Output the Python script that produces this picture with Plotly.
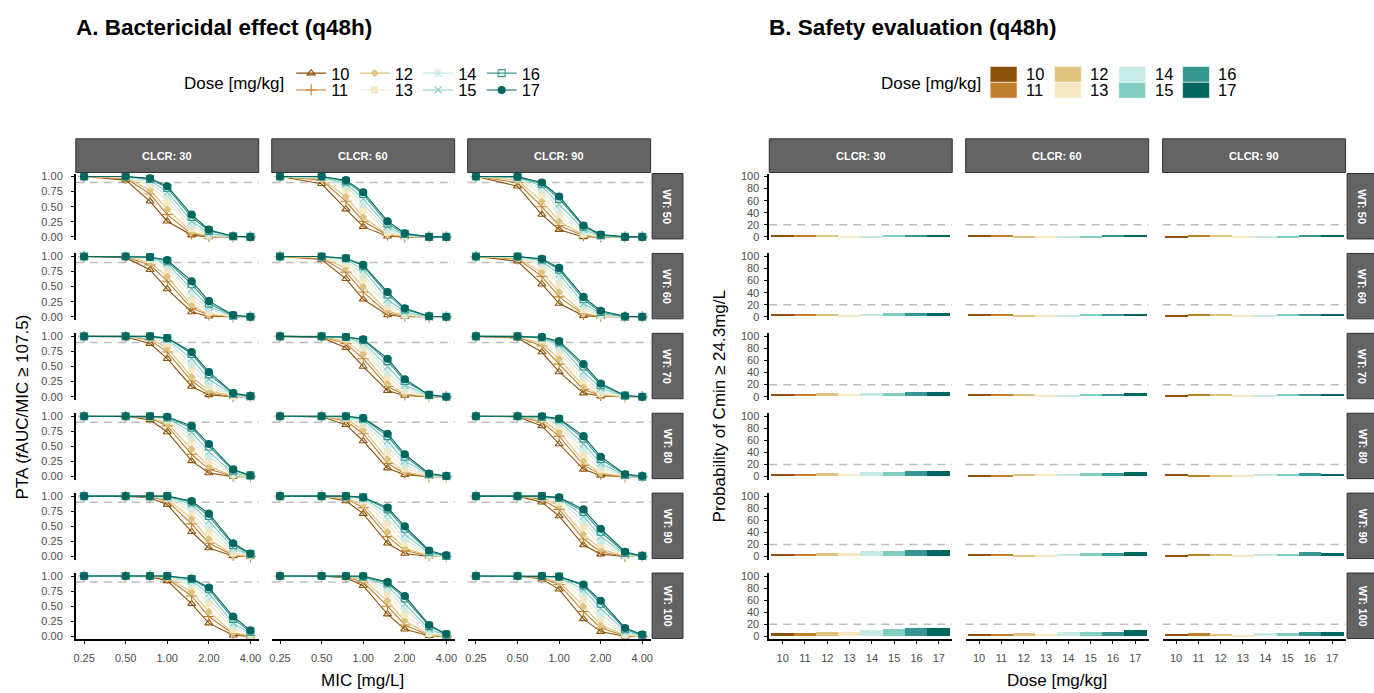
import plotly.graph_objects as go

W, H = 1374, 693

# ---------------- data ----------------
MIC = [0.25, 0.5, 0.75, 1, 1.5, 2, 3, 4]
MIC_TICKS = [0.25, 0.5, 1, 2, 4]
MIC_TICKTEXT = ["0.25", "0.50", "1.00", "2.00", "4.00"]
DOSES = [10, 11, 12, 13, 14, 15, 16, 17]
CLCR = [30, 60, 90]
WT = [50, 60, 70, 80, 90, 100]
PTA_TARGET = 0.9
SAFETY_LIMIT = 20

# PTA tables: rows = dose 10..17, columns = MIC values
PTA_WT50_CLCR30 = [
    [1, 0.94, 0.59, 0.26, 0.03, 0, 0, 0],
    [1, 0.97, 0.71, 0.37, 0.05, 0.01, 0, 0],
    [1, 0.98, 0.78, 0.46, 0.08, 0.01, 0, 0],
    [1, 0.99, 0.86, 0.59, 0.14, 0.03, 0, 0],
    [1, 1, 0.90, 0.67, 0.19, 0.04, 0, 0],
    [1, 1, 0.94, 0.74, 0.26, 0.06, 0, 0],
    [1, 1, 0.96, 0.81, 0.33, 0.10, 0.01, 0],
    [1, 1, 0.97, 0.84, 0.37, 0.12, 0.01, 0]]
PTA_WT50_CLCR60 = [
    [1, 0.88, 0.46, 0.17, 0.01, 0, 0, 0],
    [1, 0.94, 0.59, 0.26, 0.03, 0, 0, 0],
    [1, 0.96, 0.67, 0.33, 0.04, 0.01, 0, 0],
    [1, 0.98, 0.78, 0.46, 0.08, 0.01, 0, 0],
    [1, 0.99, 0.84, 0.54, 0.12, 0.02, 0, 0],
    [1, 0.99, 0.88, 0.63, 0.17, 0.03, 0, 0],
    [1, 1, 0.92, 0.71, 0.22, 0.05, 0, 0],
    [1, 1, 0.94, 0.74, 0.26, 0.06, 0, 0]]
PTA_WT50_CLCR90 = [
    [1, 0.84, 0.37, 0.12, 0, 0, 0, 0],
    [1, 0.90, 0.50, 0.19, 0.02, 0, 0, 0],
    [1, 0.94, 0.59, 0.26, 0.03, 0, 0, 0],
    [1, 0.97, 0.71, 0.37, 0.05, 0.01, 0, 0],
    [1, 0.98, 0.78, 0.46, 0.08, 0.01, 0, 0],
    [1, 0.99, 0.84, 0.54, 0.12, 0.02, 0, 0],
    [1, 0.99, 0.88, 0.63, 0.17, 0.03, 0, 0],
    [1, 1, 0.90, 0.67, 0.19, 0.04, 0, 0]]
PTA_WT60_CLCR30 = [
    [1, 0.98, 0.78, 0.46, 0.08, 0.01, 0, 0],
    [1, 0.99, 0.86, 0.59, 0.14, 0.03, 0, 0],
    [1, 1, 0.90, 0.67, 0.19, 0.04, 0, 0],
    [1, 1, 0.95, 0.78, 0.29, 0.08, 0, 0],
    [1, 1, 0.97, 0.84, 0.37, 0.12, 0.01, 0],
    [1, 1, 0.98, 0.88, 0.46, 0.17, 0.01, 0],
    [1, 1, 0.99, 0.92, 0.54, 0.22, 0.02, 0],
    [1, 1, 0.99, 0.94, 0.59, 0.26, 0.03, 0]]
PTA_WT60_CLCR60 = [
    [1, 0.95, 0.63, 0.29, 0.03, 0, 0, 0],
    [1, 0.97, 0.74, 0.41, 0.06, 0.01, 0, 0],
    [1, 0.98, 0.81, 0.50, 0.10, 0.02, 0, 0],
    [1, 0.99, 0.88, 0.63, 0.17, 0.03, 0, 0],
    [1, 1, 0.92, 0.71, 0.22, 0.05, 0, 0],
    [1, 1, 0.95, 0.78, 0.29, 0.08, 0, 0],
    [1, 1, 0.97, 0.84, 0.37, 0.12, 0.01, 0],
    [1, 1, 0.97, 0.86, 0.41, 0.14, 0.01, 0]]
PTA_WT60_CLCR90 = [
    [1, 0.92, 0.54, 0.22, 0.02, 0, 0, 0],
    [1, 0.96, 0.67, 0.33, 0.04, 0.01, 0, 0],
    [1, 0.97, 0.74, 0.41, 0.06, 0.01, 0, 0],
    [1, 0.99, 0.84, 0.54, 0.12, 0.02, 0, 0],
    [1, 0.99, 0.88, 0.63, 0.17, 0.03, 0, 0],
    [1, 1, 0.92, 0.71, 0.22, 0.05, 0, 0],
    [1, 1, 0.95, 0.78, 0.29, 0.08, 0, 0],
    [1, 1, 0.96, 0.81, 0.33, 0.10, 0.01, 0]]
PTA_WT70_CLCR30 = [
    [1, 0.99, 0.88, 0.63, 0.17, 0.03, 0, 0],
    [1, 1, 0.94, 0.74, 0.26, 0.06, 0, 0],
    [1, 1, 0.96, 0.81, 0.33, 0.10, 0.01, 0],
    [1, 1, 0.98, 0.88, 0.46, 0.17, 0.01, 0],
    [1, 1, 0.99, 0.92, 0.54, 0.22, 0.02, 0],
    [1, 1, 0.99, 0.95, 0.63, 0.29, 0.03, 0],
    [1, 1, 1, 0.97, 0.71, 0.37, 0.05, 0.01],
    [1, 1, 1, 0.97, 0.74, 0.41, 0.06, 0.01]]
PTA_WT70_CLCR60 = [
    [1, 0.98, 0.81, 0.50, 0.10, 0.02, 0, 0],
    [1, 0.99, 0.88, 0.63, 0.17, 0.03, 0, 0],
    [1, 1, 0.92, 0.71, 0.22, 0.05, 0, 0],
    [1, 1, 0.96, 0.81, 0.33, 0.10, 0.01, 0],
    [1, 1, 0.97, 0.86, 0.41, 0.14, 0.01, 0],
    [1, 1, 0.98, 0.90, 0.50, 0.19, 0.02, 0],
    [1, 1, 0.99, 0.94, 0.59, 0.26, 0.03, 0],
    [1, 1, 0.99, 0.95, 0.63, 0.29, 0.03, 0]]
PTA_WT70_CLCR90 = [
    [1, 0.97, 0.74, 0.41, 0.06, 0.01, 0, 0],
    [1, 0.99, 0.84, 0.54, 0.12, 0.02, 0, 0],
    [1, 0.99, 0.88, 0.63, 0.17, 0.03, 0, 0],
    [1, 1, 0.94, 0.74, 0.26, 0.06, 0, 0],
    [1, 1, 0.96, 0.81, 0.33, 0.10, 0.01, 0],
    [1, 1, 0.97, 0.86, 0.41, 0.14, 0.01, 0],
    [1, 1, 0.98, 0.90, 0.50, 0.19, 0.02, 0],
    [1, 1, 0.99, 0.92, 0.54, 0.22, 0.02, 0]]
PTA_WT80_CLCR30 = [
    [1, 1, 0.94, 0.74, 0.26, 0.06, 0, 0],
    [1, 1, 0.97, 0.84, 0.37, 0.12, 0.01, 0],
    [1, 1, 0.98, 0.88, 0.46, 0.17, 0.01, 0],
    [1, 1, 0.99, 0.94, 0.59, 0.26, 0.03, 0],
    [1, 1, 1, 0.96, 0.67, 0.33, 0.04, 0.01],
    [1, 1, 1, 0.97, 0.74, 0.41, 0.06, 0.01],
    [1, 1, 1, 0.98, 0.81, 0.50, 0.10, 0.02],
    [1, 1, 1, 0.99, 0.84, 0.54, 0.12, 0.02]]
PTA_WT80_CLCR60 = [
    [1, 0.99, 0.86, 0.59, 0.14, 0.03, 0, 0],
    [1, 1, 0.92, 0.71, 0.22, 0.05, 0, 0],
    [1, 1, 0.95, 0.78, 0.29, 0.08, 0, 0],
    [1, 1, 0.97, 0.86, 0.41, 0.14, 0.01, 0],
    [1, 1, 0.98, 0.90, 0.50, 0.19, 0.02, 0],
    [1, 1, 0.99, 0.94, 0.59, 0.26, 0.03, 0],
    [1, 1, 1, 0.96, 0.67, 0.33, 0.04, 0.01],
    [1, 1, 1, 0.97, 0.71, 0.37, 0.05, 0.01]]
PTA_WT80_CLCR90 = [
    [1, 0.99, 0.84, 0.54, 0.12, 0.02, 0, 0],
    [1, 1, 0.90, 0.67, 0.19, 0.04, 0, 0],
    [1, 1, 0.94, 0.74, 0.26, 0.06, 0, 0],
    [1, 1, 0.97, 0.84, 0.37, 0.12, 0.01, 0],
    [1, 1, 0.98, 0.88, 0.46, 0.17, 0.01, 0],
    [1, 1, 0.99, 0.92, 0.54, 0.22, 0.02, 0],
    [1, 1, 0.99, 0.95, 0.63, 0.29, 0.03, 0],
    [1, 1, 1, 0.96, 0.67, 0.33, 0.04, 0.01]]
PTA_WT90_CLCR30 = [
    [1, 1, 0.97, 0.86, 0.41, 0.14, 0.01, 0],
    [1, 1, 0.99, 0.92, 0.54, 0.22, 0.02, 0],
    [1, 1, 0.99, 0.95, 0.63, 0.29, 0.03, 0],
    [1, 1, 1, 0.97, 0.74, 0.41, 0.06, 0.01],
    [1, 1, 1, 0.98, 0.81, 0.50, 0.10, 0.02],
    [1, 1, 1, 0.99, 0.86, 0.59, 0.14, 0.03],
    [1, 1, 1, 1, 0.90, 0.67, 0.19, 0.04],
    [1, 1, 1, 1, 0.92, 0.71, 0.22, 0.05]]
PTA_WT90_CLCR60 = [
    [1, 1, 0.92, 0.71, 0.22, 0.05, 0, 0],
    [1, 1, 0.96, 0.81, 0.33, 0.10, 0.01, 0],
    [1, 1, 0.97, 0.86, 0.41, 0.14, 0.01, 0],
    [1, 1, 0.99, 0.92, 0.54, 0.22, 0.02, 0],
    [1, 1, 0.99, 0.95, 0.63, 0.29, 0.03, 0],
    [1, 1, 1, 0.97, 0.71, 0.37, 0.05, 0.01],
    [1, 1, 1, 0.98, 0.78, 0.46, 0.08, 0.01],
    [1, 1, 1, 0.98, 0.81, 0.50, 0.10, 0.02]]
PTA_WT90_CLCR90 = [
    [1, 1, 0.90, 0.67, 0.19, 0.04, 0, 0],
    [1, 1, 0.95, 0.78, 0.29, 0.08, 0, 0],
    [1, 1, 0.97, 0.84, 0.37, 0.12, 0.01, 0],
    [1, 1, 0.98, 0.90, 0.50, 0.19, 0.02, 0],
    [1, 1, 0.99, 0.94, 0.59, 0.26, 0.03, 0],
    [1, 1, 1, 0.96, 0.67, 0.33, 0.04, 0.01],
    [1, 1, 1, 0.97, 0.74, 0.41, 0.06, 0.01],
    [1, 1, 1, 0.98, 0.78, 0.46, 0.08, 0.01]]
PTA_WT100_CLCR30 = [
    [1, 1, 0.99, 0.92, 0.54, 0.22, 0.02, 0],
    [1, 1, 1, 0.96, 0.67, 0.33, 0.04, 0.01],
    [1, 1, 1, 0.97, 0.74, 0.41, 0.06, 0.01],
    [1, 1, 1, 0.99, 0.84, 0.54, 0.12, 0.02],
    [1, 1, 1, 0.99, 0.88, 0.63, 0.17, 0.03],
    [1, 1, 1, 1, 0.92, 0.71, 0.22, 0.05],
    [1, 1, 1, 1, 0.95, 0.78, 0.29, 0.08],
    [1, 1, 1, 1, 0.96, 0.81, 0.33, 0.10]]
PTA_WT100_CLCR60 = [
    [1, 1, 0.97, 0.84, 0.37, 0.12, 0.01, 0],
    [1, 1, 0.98, 0.90, 0.50, 0.19, 0.02, 0],
    [1, 1, 0.99, 0.94, 0.59, 0.26, 0.03, 0],
    [1, 1, 1, 0.97, 0.71, 0.37, 0.05, 0.01],
    [1, 1, 1, 0.98, 0.78, 0.46, 0.08, 0.01],
    [1, 1, 1, 0.99, 0.84, 0.54, 0.12, 0.02],
    [1, 1, 1, 0.99, 0.88, 0.63, 0.17, 0.03],
    [1, 1, 1, 1, 0.90, 0.67, 0.19, 0.04]]
PTA_WT100_CLCR90 = [
    [1, 1, 0.95, 0.78, 0.29, 0.08, 0, 0],
    [1, 1, 0.97, 0.86, 0.41, 0.14, 0.01, 0],
    [1, 1, 0.98, 0.90, 0.50, 0.19, 0.02, 0],
    [1, 1, 0.99, 0.95, 0.63, 0.29, 0.03, 0],
    [1, 1, 1, 0.97, 0.71, 0.37, 0.05, 0.01],
    [1, 1, 1, 0.98, 0.78, 0.46, 0.08, 0.01],
    [1, 1, 1, 0.99, 0.84, 0.54, 0.12, 0.02],
    [1, 1, 1, 0.99, 0.86, 0.59, 0.14, 0.03]]

# Probability (%) of Cmin >= 24.3 mg/L; per WT: [CLCR30, CLCR60, CLCR90], each over doses 10..17
CMIN_WT50 = [[4, 4, 4, 3, 3, 3.5, 4, 4],
             [3.5, 3.5, 3, 3, 3, 3, 3.5, 3.5],
             [3, 3.5, 3.5, 3, 3, 3, 4, 3.5]]
CMIN_WT60 = [[4, 3.5, 4.5, 3, 4, 5, 5.5, 6],
             [4, 4, 3, 3, 3, 3.5, 4, 4.5],
             [3, 3.5, 3.5, 3, 3, 3.5, 3.5, 3.5]]
CMIN_WT70 = [[4, 3.5, 5, 3.5, 5, 5.5, 6.5, 6.5],
             [3.5, 3.5, 3.5, 3, 2.5, 3.5, 3.5, 5],
             [2.5, 3.5, 3.5, 3, 3, 3.5, 3.5, 3.5]]
CMIN_WT80 = [[4.5, 3.5, 5, 4.5, 7.5, 8, 8.5, 9.5],
             [3, 3, 4, 3.5, 4, 5.5, 5, 7],
             [3.5, 3, 3, 2.5, 4.5, 4, 5.5, 4.5]]
CMIN_WT90 = [[4.5, 4, 6, 5, 8.5, 9.5, 11, 11],
             [3.5, 3.5, 3, 3, 4.5, 5, 6, 8],
             [3, 3.5, 3.5, 2.5, 4, 4.5, 6.5, 5.5]]
CMIN_WT100 = [[5, 5, 7, 7, 11, 12.5, 13.5, 14],
              [3.5, 3.5, 5.5, 4.5, 6.5, 7.5, 7.5, 10],
              [4, 5.5, 4, 3, 5, 5.5, 8, 7]]

PTA_TABLES = [
    [PTA_WT50_CLCR30, PTA_WT50_CLCR60, PTA_WT50_CLCR90],
    [PTA_WT60_CLCR30, PTA_WT60_CLCR60, PTA_WT60_CLCR90],
    [PTA_WT70_CLCR30, PTA_WT70_CLCR60, PTA_WT70_CLCR90],
    [PTA_WT80_CLCR30, PTA_WT80_CLCR60, PTA_WT80_CLCR90],
    [PTA_WT90_CLCR30, PTA_WT90_CLCR60, PTA_WT90_CLCR90],
    [PTA_WT100_CLCR30, PTA_WT100_CLCR60, PTA_WT100_CLCR90]]
CMIN_TABLES = [CMIN_WT50, CMIN_WT60, CMIN_WT70, CMIN_WT80, CMIN_WT90, CMIN_WT100]

# ---------------- styles ----------------
COLORS = ["#8C510A", "#BF812D", "#DFC27D", "#F6E8C3",
          "#C7EAE5", "#80CDC1", "#35978F", "#01665E"]
SYMBOLS = ["triangle-up-open", "cross-thin-open", "diamond", "square",
           "asterisk-open", "x-thin-open", "square-open", "circle"]
SIZES = [7, 8, 5, 6, 8, 7, 7, 7]
FONT = "Liberation Sans, Arial, sans-serif"
TICK_COLOR = "#4D4D4D"
STRIP_FILL = "#636363"
STRIP_LINE = "#333333"

A_LEFT = [74, 270.5, 467]
B_LEFT = [769.5, 966.5, 1164]
PW = 183.5
ROW_TOP = [172 + 80.6 * r for r in range(6)]
PH = 67
STRIP_TOP = 137
STRIP_BOTTOM = 171


def fx(p):
    return p / W


def fy(p):
    return 1 - p / H


fig = go.Figure()
layout = {}
shapes = []
annotations = []


def axis_names(k):
    s = "" if k == 1 else str(k)
    return "x" + s, "y" + s, "xaxis" + s, "yaxis" + s


def axis_style(show, standoff):
    return dict(showticklabels=show, ticks="outside" if show else "",
                ticklen=3, tickwidth=1.2, tickcolor="black",
                ticklabelstandoff=standoff,
                showline=show, linecolor="black", linewidth=1.6,
                showgrid=False, zeroline=False,
                tickfont=dict(family=FONT, size=11, color=TICK_COLOR))


k = 0
# ---------------- Panel A: PTA lines ----------------
for r in range(6):
    for c in range(3):
        k += 1
        xn, yn, xk, yk = axis_names(k)
        table = PTA_TABLES[r][c]
        for d in range(len(DOSES)):
            fig.add_trace(go.Scatter(
                x=MIC, y=table[d], mode="lines+markers",
                xaxis=xn, yaxis=yn,
                name=str(DOSES[d]),
                line=dict(color=COLORS[d], width=1.1),
                marker=dict(symbol=SYMBOLS[d], size=SIZES[d], color=COLORS[d],
                            line=dict(color=COLORS[d], width=1.1)),
                showlegend=(k == 1),
                legend=("legend" if d % 2 == 0 else "legend2"),
                cliponaxis=False,
            ))
        layout[xk] = dict(
            domain=[fx(A_LEFT[c]), fx(A_LEFT[c] + PW)], anchor=yn,
            type="log", range=[-0.6623, 0.6623],
            tickvals=MIC_TICKS, ticktext=MIC_TICKTEXT,
            **axis_style(r == 5, 5))
        layout[yk] = dict(
            domain=[fy(ROW_TOP[r] + PH), fy(ROW_TOP[r])], anchor=xn,
            range=[-0.05, 1.05],
            tickvals=[0, 0.25, 0.5, 0.75, 1],
            ticktext=["0.00", "0.25", "0.50", "0.75", "1.00"],
            **axis_style(c == 0, 6))
        shapes.append(dict(type="line", xref=xn + " domain", yref=yn,
                           x0=0, x1=1, y0=PTA_TARGET, y1=PTA_TARGET,
                           line=dict(color="#BDBDBD", width=1.5, dash="8px,6px"),
                           layer="below"))

# ---------------- Panel B: safety bars ----------------
for r in range(6):
    for c in range(3):
        k += 1
        xn, yn, xk, yk = axis_names(k)
        fig.add_trace(go.Bar(
            x=DOSES, y=CMIN_TABLES[r][c], xaxis=xn, yaxis=yn,
            marker=dict(color=COLORS, line=dict(width=0)),
            width=1, showlegend=False, name="CLCR %d WT %d" % (CLCR[c], WT[r])))
        layout[xk] = dict(
            domain=[fx(B_LEFT[c]), fx(B_LEFT[c] + PW)], anchor=yn,
            range=[9.4, 17.6], tickvals=DOSES,
            **axis_style(r == 5, 5))
        layout[yk] = dict(
            domain=[fy(ROW_TOP[r] + PH), fy(ROW_TOP[r])], anchor=xn,
            range=[-5, 105], tickvals=[0, 20, 40, 60, 80, 100],
            **axis_style(c == 0, 3))
        shapes.append(dict(type="line", xref=xn + " domain", yref=yn,
                           x0=0, x1=1, y0=SAFETY_LIMIT, y1=SAFETY_LIMIT,
                           line=dict(color="#BDBDBD", width=1.5, dash="8px,6px"),
                           layer="below"))

# ---------------- strips ----------------
for lefts, wt_x in ((A_LEFT, 652), (B_LEFT, 1349)):
    for c in range(3):
        shapes.append(dict(type="rect", xref="paper", yref="paper",
                           x0=fx(lefts[c]), x1=fx(lefts[c] + PW),
                           y0=fy(STRIP_BOTTOM), y1=fy(STRIP_TOP),
                           fillcolor=STRIP_FILL, line=dict(color=STRIP_LINE, width=1)))
        annotations.append(dict(xref="paper", yref="paper",
                                x=fx(lefts[c] + PW / 2), y=fy((STRIP_TOP + STRIP_BOTTOM) / 2),
                                xanchor="center", yanchor="middle",
                                text="<b>CLCR: %d</b>" % CLCR[c], showarrow=False,
                                font=dict(family=FONT, size=11, color="white")))
    for r in range(6):
        shapes.append(dict(type="rect", xref="paper", yref="paper",
                           x0=fx(wt_x), x1=fx(wt_x + 31),
                           y0=fy(ROW_TOP[r] + PH - 1), y1=fy(ROW_TOP[r]),
                           fillcolor=STRIP_FILL, line=dict(color=STRIP_LINE, width=1)))
        annotations.append(dict(xref="paper", yref="paper",
                                x=fx(wt_x + 15.5), y=fy(ROW_TOP[r] + PH / 2),
                                xanchor="center", yanchor="middle",
                                text="<b>WT: %d</b>" % WT[r], showarrow=False, textangle=90,
                                font=dict(family=FONT, size=11, color="white")))

# ---------------- titles and axis titles ----------------
TITLE_FONT = dict(family=FONT, size=22.5, color="black")
AX_FONT = dict(family=FONT, size=17, color="black")
annotations += [
    dict(xref="paper", yref="paper", x=fx(72), y=fy(25), xanchor="left", yanchor="middle",
         text="<b>A. Bactericidal effect (q48h)</b>", showarrow=False, font=TITLE_FONT),
    dict(xref="paper", yref="paper", x=fx(767), y=fy(25), xanchor="left", yanchor="middle",
         text="<b>B. Safety evaluation (q48h)</b>", showarrow=False, font=TITLE_FONT),
    dict(xref="paper", yref="paper", x=fx(362), y=fy(683), xanchor="center", yanchor="middle",
         text="MIC [mg/L]", showarrow=False, font=AX_FONT),
    dict(xref="paper", yref="paper", x=fx(1058), y=fy(683), xanchor="center", yanchor="middle",
         text="Dose [mg/kg]", showarrow=False, font=AX_FONT),
    dict(xref="paper", yref="paper", x=fx(21), y=fy(407), xanchor="center", yanchor="middle",
         text="PTA (<i>f</i>AUC/MIC \u2265 107.5)", textangle=-90, showarrow=False,
         font=AX_FONT),
    dict(xref="paper", yref="paper", x=fx(720), y=fy(407), xanchor="center", yanchor="middle",
         text="Probability of Cmin \u2265 24.3mg/L", textangle=-90, showarrow=False,
         font=AX_FONT),
    dict(xref="paper", yref="paper", x=fx(181), y=fy(81), xanchor="left", yanchor="middle",
         text="Dose [mg/kg]", showarrow=False, font=AX_FONT),
    dict(xref="paper", yref="paper", x=fx(880), y=fy(81), xanchor="left", yanchor="middle",
         text="Dose [mg/kg]", showarrow=False, font=AX_FONT),
]

# ---------------- Panel B legend (colour keys) ----------------
KEY_X = [991, 1055.5, 1120, 1184]
for i, d in enumerate(DOSES):
    col = i // 2
    row = i % 2
    y0 = 64 + row * 16
    shapes.append(dict(type="rect", xref="paper", yref="paper",
                       x0=fx(KEY_X[col]), x1=fx(KEY_X[col] + 27),
                       y0=fy(y0 + 16), y1=fy(y0),
                       fillcolor=COLORS[i], line=dict(color="white", width=0.6)))
    annotations.append(dict(xref="paper", yref="paper", x=fx(KEY_X[col] + 34), y=fy(y0 + 8),
                            xanchor="left", yanchor="middle", text=str(d), showarrow=False,
                            font=dict(family=FONT, size=16.5, color="black")))

legend_common = dict(orientation="h", xanchor="left", yanchor="middle",
                     bgcolor="rgba(0,0,0,0)", borderwidth=0,
                     font=dict(family=FONT, size=16.5, color="black"),
                     itemwidth=30, entrywidthmode="pixels", entrywidth=18.5,
                     tracegroupgap=0)

fig.update_layout(
    width=W, height=H,
    margin=dict(l=0, r=0, t=0, b=0),
    paper_bgcolor="white", plot_bgcolor="white",
    shapes=shapes, annotations=annotations,
    legend=dict(x=fx(290), y=fy(71), **legend_common),
    legend2=dict(x=fx(290), y=fy(88), **legend_common),
    bargap=0,
    **layout,
)

fig.write_html("out.html",
               config={"displayModeBar": False},
               post_script="document.body.style.margin='0px';document.body.style.padding='0px';")
